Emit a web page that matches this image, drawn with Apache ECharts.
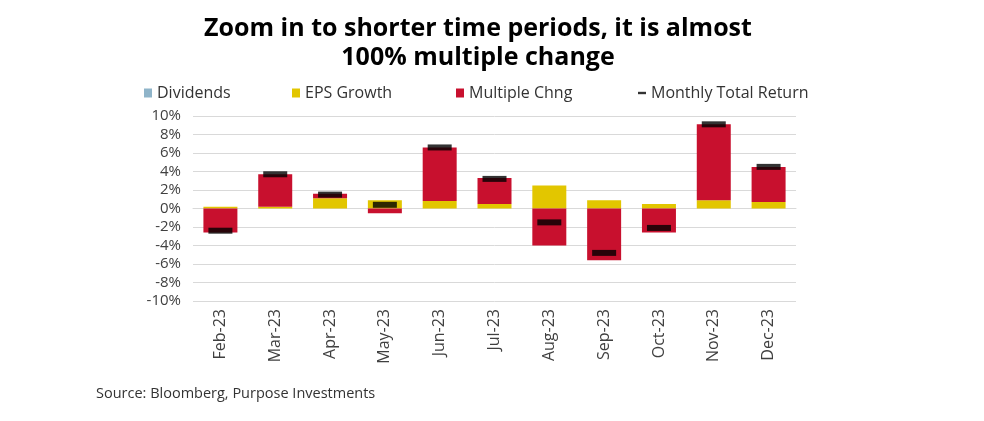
<!DOCTYPE html>
<html><head><meta charset="utf-8">
<script src="https://cdn.jsdelivr.net/npm/echarts@6/dist/echarts.min.js"></script>
<style>html,body{margin:0;padding:0;background:#fff}#c{width:984px;height:421px}</style>
</head><body><div id="c"></div>
<script>
const categories = ['Feb-23','Mar-23','Apr-23','May-23','Jun-23','Jul-23','Aug-23','Sep-23','Oct-23','Nov-23','Dec-23'];
const dividends = [0,0,0,0,0,0,0,0,0,0,0];
const epsGrowth = [0.2,0.2,1.1,0.9,0.8,0.5,2.5,0.9,0.5,0.9,0.7];
const multipleChng = [-2.6,3.5,0.5,-0.5,5.8,2.8,-4.0,-5.6,-2.6,8.2,3.8];
const monthlyTotalReturn = [-2.4,3.7,1.5,0.4,6.6,3.2,-1.5,-4.8,-2.1,9.1,4.5];
const yTicks = {min:-10, max:10, interval:2};

const FONT = 'Open Sans';
const chart = echarts.init(document.getElementById('c'));
const legendBase = {top:80, itemWidth:8, itemHeight:9, itemGap:0,
  textStyle:{fontFamily:FONT, fontSize:16, color:'#333'}};
chart.setOption({
  animation:false,
  title:{text:'Zoom in to shorter time periods, it is almost\n100% multiple change',
    left:473, top:9, textAlign:'center',
    textStyle:{fontFamily:FONT, fontWeight:'bold', fontSize:25, lineHeight:29, color:'#000'}},
  legend:[
    Object.assign({left:139, data:[{name:'Dividends', icon:'rect'}]}, legendBase),
    Object.assign({left:287, data:[{name:'EPS Growth', icon:'rect'}]}, legendBase),
    Object.assign({left:451, data:[{name:'Multiple Chng', icon:'rect'}]}, legendBase),
    Object.assign({left:633, data:[{name:'Monthly Total Return', icon:'path://M0,4H10V7H0Z'}]}, legendBase)
  ],
  graphic:[{type:'text', left:96, top:386,
    style:{text:'Source: Bloomberg, Purpose Investments', font:'14.5px "Open Sans"', fill:'#333'}}],
  grid:{left:193, right:188, top:116, bottom:120},
  xAxis:{type:'category', data:categories,
    axisLine:{show:true, lineStyle:{color:'#d9d9d9'}}, axisTick:{show:false},
    axisLabel:{rotate:90, fontFamily:FONT, fontSize:16, color:'#404040', margin:8}},
  yAxis:{type:'value', min:yTicks.min, max:yTicks.max, interval:yTicks.interval,
    axisLabel:{formatter:'{value}%', fontFamily:FONT, fontSize:15, color:'#404040', margin:12},
    splitLine:{lineStyle:{color:'#d9d9d9'}}, axisLine:{show:false}, axisTick:{show:false}},
  series:[
    {name:'Dividends', type:'bar', stack:'t', data:dividends, barWidth:'62%', itemStyle:{color:'#8fb4c9'}},
    {name:'EPS Growth', type:'bar', stack:'t', data:epsGrowth, itemStyle:{color:'#e2c600'}},
    {name:'Multiple Chng', type:'bar', stack:'t', data:multipleChng, itemStyle:{color:'#c8102e'}},
    {name:'Monthly Total Return', type:'scatter', data:monthlyTotalReturn, z:10,
      symbol:'rect', symbolSize:[24,6], itemStyle:{color:'#000'}}
  ]
});
</script></body></html>
